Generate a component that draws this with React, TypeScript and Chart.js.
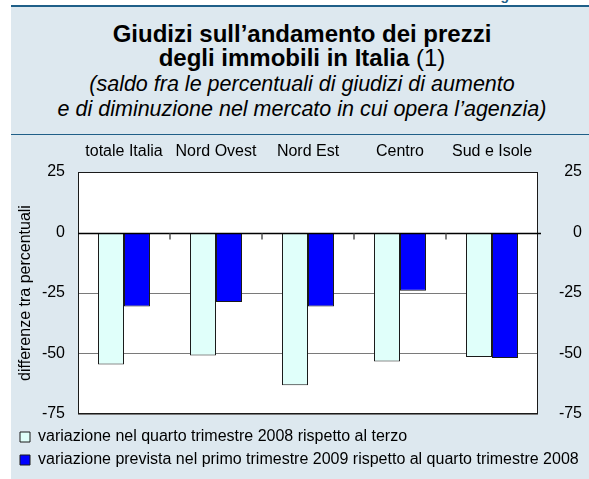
import React, { useEffect, useRef } from "react";
import { Chart, registerables } from "chart.js";

Chart.register(...registerables);

const categories = ["totale Italia", "Nord Ovest", "Nord Est", "Centro", "Sud e Isole"];
const q4Change2008 = [-54.5, -50.8, -63.1, -53.3, -51.4];
const q1Expected2009 = [-30.6, -28.7, -30.6, -24.1, -51.9];
const seriesLabels = [
  "variazione nel quarto trimestre 2008 rispetto al terzo",
  "variazione prevista nel primo trimestre 2009 rispetto al quarto trimestre 2008",
];
const yMin = -75;
const yMax = 25;
const yStep = 25;
const yTitle = "differenze tra percentuali";

const FONT = '"Liberation Sans", Arial, Helvetica, sans-serif';
const PANEL_BG = "#dde8ef";
const RULE = "#1f5f88";

const framePlugin = {
  id: "frame",
  beforeDraw(chart: any) {
    const { ctx, chartArea } = chart;
    const { left, right, top, bottom } = chartArea;
    ctx.save();
    ctx.fillStyle = "#ffffff";
    ctx.fillRect(left, top, right - left, bottom - top);
    ctx.restore();
  },
  afterDraw(chart: any) {
    const { ctx, chartArea, scales } = chart;
    const { left, right, top, bottom } = chartArea;
    const y0 = Math.round(scales.y.getPixelForValue(0)) + 0.5;
    ctx.save();
    ctx.strokeStyle = "#1a1a1a";
    ctx.lineWidth = 1;
    ctx.strokeRect(left + 0.5, top + 0.5, right - left - 1, bottom - top - 1);
    ctx.strokeStyle = "#000";
    ctx.lineWidth = 1.4;
    ctx.beginPath();
    ctx.moveTo(left, y0);
    ctx.lineTo(right + 3, y0);
    ctx.stroke();
    const xs = scales.x;
    ctx.strokeStyle = "#555";
    ctx.lineWidth = 1.5;
    for (let i = 0; i < xs.ticks.length - 1; i++) {
      const bx = Math.round((xs.getPixelForTick(i) + xs.getPixelForTick(i + 1)) / 2);
      ctx.beginPath();
      ctx.moveTo(bx, y0);
      ctx.lineTo(bx, y0 + 6);
      ctx.stroke();
    }
    ctx.restore();
  },
};

function BarChart() {
  const ref = useRef<HTMLCanvasElement | null>(null);
  useEffect(() => {
    if (!ref.current) return;
    const chart = new Chart(ref.current, {
      type: "bar",
      data: {
        labels: categories,
        datasets: [
          {
            label: seriesLabels[0],
            data: q4Change2008,
            backgroundColor: "#e0fffa",
            borderColor: "#1a1a1a",
            borderWidth: 1,
            categoryPercentage: 0.565,
            barPercentage: 1,
          },
          {
            label: seriesLabels[1],
            data: q1Expected2009,
            backgroundColor: "#0000ff",
            borderColor: "#1a1a1a",
            borderWidth: 1,
            categoryPercentage: 0.565,
            barPercentage: 1,
          },
        ],
      },
      options: {
        animation: false,
        responsive: false,
        maintainAspectRatio: false,
        devicePixelRatio: 1,
        layout: { padding: { left: 2, right: 7, top: 0, bottom: 1 } },
        plugins: {
          tooltip: { enabled: false },
          title: { display: false },
          legend: {
            position: "bottom",
            align: "start",
            labels: {
              boxWidth: 10,
              boxHeight: 10,
              padding: 7,
              color: "#000",
              font: { family: FONT, size: 16 },
            },
          },
        },
        scales: {
          x: {
            type: "category",
            position: "top",
            grid: { display: false },
            border: { display: false },
            ticks: {
              color: "#000",
              font: { family: FONT, size: 16 },
              padding: 3,
              maxRotation: 0,
              autoSkip: false,
            },
            afterFit: (s: any) => {
              s.height = 37;
            },
          },
          xb: {
            type: "category",
            position: "bottom",
            display: true,
            grid: { display: false },
            border: { display: false },
            ticks: { display: false },
            afterFit: (s: any) => {
              s.height = 8;
            },
          },
          y: {
            type: "linear",
            position: "left",
            min: yMin,
            max: yMax,
            ticks: {
              stepSize: yStep,
              color: "#000",
              font: { family: FONT, size: 16 },
              padding: 13,
            },
            grid: {
              drawTicks: false,
              color: (c: any) => (c.tick && c.tick.value === 0 ? "rgba(0,0,0,0)" : "#7a7a7a"),
              lineWidth: 1,
            },
            border: { display: false },
            title: {
              display: true,
              text: yTitle,
              color: "#000",
              font: { family: FONT, size: 16 },
              padding: { top: 3, bottom: 0 },
            },
            afterFit: (s: any) => {
              s.width = 65;
            },
          },
          y2: {
            type: "linear",
            position: "right",
            min: yMin,
            max: yMax,
            ticks: {
              stepSize: yStep,
              color: "#000",
              font: { family: FONT, size: 16 },
              padding: 12,
              crossAlign: "far",
            },
            grid: { display: false, drawTicks: false },
            border: { display: false },
            afterFit: (s: any) => {
              s.width = 44;
            },
          },
        },
      },
      plugins: [framePlugin],
    } as any);
    return () => chart.destroy();
  }, []);
  return <canvas ref={ref} width={578} height={344} style={{ display: "block", width: 578, height: 344 }} />;
}

export default function App() {
  const center = { position: "absolute" as const, left: 13, width: 578, textAlign: "center" as const, whiteSpace: "nowrap" as const, color: "#000" };
  return (
    <div style={{ position: "fixed", left: 0, top: 0, width: 589, height: 479, background: "#fff", overflow: "hidden", fontFamily: FONT }}>
      <div style={{ position: "absolute", left: 488, top: -12, fontSize: 14, lineHeight: "14px", fontWeight: "bold", color: RULE }}>Figura 5</div>
      <div style={{ position: "absolute", left: 11, top: 5, width: 578, height: 2, background: RULE }} />
      <div style={{ position: "absolute", left: 11, top: 7, width: 578, height: 472, background: PANEL_BG }} />
      <div style={{ position: "absolute", left: 11, top: 134, width: 578, height: 1, background: RULE }} />
      <div style={{ ...center, top: 21.7, fontSize: 24, lineHeight: "24px", fontWeight: "bold" }}>Giudizi sull’andamento dei prezzi</div>
      <div style={{ ...center, top: 45.7, fontSize: 24, lineHeight: "24px" }}>
        <b>degli immobili in Italia</b> (1)
      </div>
      <div style={{ ...center, top: 73.8, fontSize: 21.5, lineHeight: "21.5px", fontStyle: "italic" }}>(saldo fra le percentuali di giudizi di aumento</div>
      <div style={{ ...center, top: 98.8, fontSize: 21.5, lineHeight: "21.5px", fontStyle: "italic" }}>e di diminuzione nel mercato in cui opera l’agenzia)</div>
      <div style={{ position: "absolute", left: 11, top: 135 }}>
        <BarChart />
      </div>
    </div>
  );
}
